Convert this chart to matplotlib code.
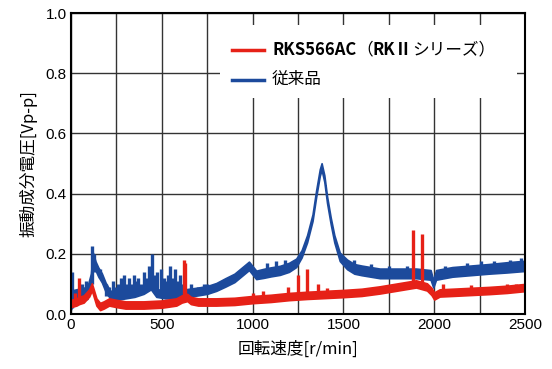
import numpy as np
import matplotlib
matplotlib.use("Agg")
import matplotlib.pyplot as plt

plt.rcParams['font.family'] = ['Noto Sans CJK JP', 'DejaVu Sans']

# 従来品 (青) : 中心値と帯の半幅
blue_x = [0, 15, 50, 90, 110, 120, 135, 150, 170, 190, 215, 250, 300, 350, 400, 440,
          470, 520, 580, 640, 700, 750, 800, 850, 900, 950, 980, 1000, 1020, 1060,
          1100, 1150, 1200, 1240, 1270, 1300, 1330, 1350, 1370, 1380, 1395, 1410,
          1430, 1450, 1480, 1520, 1560, 1600, 1700, 1800, 1900, 1980, 1995, 2010,
          2100, 2200, 2300, 2400, 2500]
blue_y = [0.03, 0.06, 0.065, 0.07, 0.12, 0.19, 0.16, 0.14, 0.12, 0.09, 0.065, 0.06,
          0.065, 0.07, 0.08, 0.095, 0.07, 0.065, 0.065, 0.07, 0.075, 0.08, 0.09,
          0.105, 0.12, 0.145, 0.16, 0.145, 0.13, 0.135, 0.14, 0.145, 0.155, 0.17,
          0.2, 0.25, 0.32, 0.4, 0.47, 0.49, 0.45, 0.38, 0.31, 0.25, 0.19, 0.165,
          0.15, 0.145, 0.135, 0.135, 0.135, 0.13, 0.1, 0.13, 0.14, 0.145, 0.15,
          0.155, 0.16]
blue_hw = [0.015, 0.02, 0.02, 0.02, 0.015, 0.015, 0.015, 0.015, 0.015, 0.015, 0.013,
           0.013, 0.013, 0.013, 0.013, 0.013, 0.013, 0.013, 0.013, 0.013, 0.013,
           0.013, 0.013, 0.014, 0.014, 0.014, 0.014, 0.014, 0.014, 0.015, 0.015,
           0.015, 0.015, 0.014, 0.012, 0.012, 0.011, 0.011, 0.011, 0.011, 0.011,
           0.011, 0.011, 0.012, 0.014, 0.016, 0.016, 0.016, 0.016, 0.016, 0.016,
           0.016, 0.012, 0.016, 0.016, 0.016, 0.016, 0.017, 0.017]
# 青のスパイク (回転速度, 下端, 上端)
blue_spk_x = [8, 60, 80, 115, 125, 160, 195, 210, 230, 245, 260, 275, 290, 305, 320,
              335, 345, 360, 370, 385, 400, 415, 430, 445, 460, 475, 495, 510, 520,
              535, 545, 560, 570, 585, 600, 615, 660, 700, 730, 750, 1080, 1130,
              1180, 1560, 1650, 1750, 1850, 2060, 2180, 2260, 2330, 2420, 2480]
blue_spk_lo = [0.02, 0.05, 0.05, 0.1, 0.14, 0.12, 0.06, 0.06, 0.06, 0.06, 0.06,
               0.06, 0.06, 0.06, 0.06, 0.065, 0.065, 0.07, 0.07, 0.075, 0.075, 0.08,
               0.085, 0.09, 0.08, 0.07, 0.065, 0.065, 0.06, 0.06, 0.06, 0.06, 0.06,
               0.06, 0.06, 0.065, 0.07, 0.07, 0.075, 0.08, 0.14, 0.14, 0.15, 0.15,
               0.14, 0.135, 0.135, 0.135, 0.14, 0.145, 0.15, 0.155, 0.155]
blue_spk_hi = [0.14, 0.1, 0.11, 0.225, 0.2, 0.15, 0.1, 0.09, 0.11, 0.09, 0.1, 0.12,
               0.13, 0.1, 0.12, 0.1, 0.13, 0.11, 0.12, 0.1, 0.14, 0.12, 0.16, 0.2,
               0.13, 0.14, 0.15, 0.12, 0.11, 0.13, 0.16, 0.12, 0.15, 0.11, 0.13,
               0.1, 0.1, 0.09, 0.1, 0.1, 0.17, 0.175, 0.18, 0.18, 0.165, 0.16, 0.16,
               0.16, 0.17, 0.175, 0.175, 0.18, 0.185]

# RKS566AC (赤)
red_x = [0, 30, 45, 70, 100, 115, 125, 140, 160, 180, 210, 250, 300, 400, 500, 580,
         610, 640, 660, 700, 800, 900, 1000, 1100, 1200, 1300, 1400, 1500, 1600,
         1700, 1800, 1900, 1960, 1985, 2000, 2030, 2100, 2200, 2300, 2400, 2500]
red_y = [0.035, 0.04, 0.045, 0.05, 0.07, 0.09, 0.07, 0.04, 0.025, 0.03, 0.04, 0.035,
         0.03, 0.03, 0.033, 0.04, 0.05, 0.055, 0.045, 0.04, 0.04, 0.042, 0.048,
         0.052, 0.058, 0.062, 0.065, 0.068, 0.072, 0.08, 0.09, 0.1, 0.09, 0.075,
         0.06, 0.07, 0.072, 0.075, 0.078, 0.082, 0.088]
red_hw = 0.012
red_spk_x = [20, 45, 620, 630, 1000, 1060, 1195, 1250, 1300, 1360, 1410, 1885, 1935,
             2050, 2200, 2400, 2450]
red_spk_lo = [0.03, 0.04, 0.04, 0.05, 0.045, 0.05, 0.055, 0.058, 0.06, 0.062, 0.065,
              0.1, 0.1, 0.07, 0.075, 0.08, 0.08]
red_spk_hi = [0.07, 0.12, 0.18, 0.17, 0.07, 0.075, 0.09, 0.13, 0.15, 0.1, 0.085,
              0.28, 0.265, 0.1, 0.095, 0.1, 0.1]

xticks = [0, 500, 1000, 1500, 2000, 2500]
yticks = [0.0, 0.2, 0.4, 0.6, 0.8, 1.0]

red = '#e62117'
blue = '#1c4a9c'

fig = plt.figure(figsize=(5.52, 3.69), dpi=100)
ax = fig.add_axes([0.1286, 0.149, 0.8225, 0.8157])

bx = np.array(blue_x)
by = np.array(blue_y)
bw = np.array(blue_hw)
ax.fill_between(bx, by - bw, by + bw, color=blue, lw=1.2, zorder=3)
ax.vlines(blue_spk_x, blue_spk_lo, blue_spk_hi, color=blue, lw=2.4, zorder=3)

rx = np.array(red_x)
ry = np.array(red_y)
ax.fill_between(rx, ry - red_hw, ry + red_hw, color=red, lw=1.2, zorder=4)
ax.vlines(red_spk_x, red_spk_lo, red_spk_hi, color=red, lw=2.4, zorder=4)

ax.set_xlim(0, 2500)
ax.set_ylim(0, 1.0)
ax.set_xticks(xticks)
ax.set_xticks([250, 750, 1250, 1750, 2250], minor=True)
ax.set_yticks(yticks)
ax.set_yticklabels(['%.1f' % v for v in yticks])
ax.grid(True, which='both', color='#333333', lw=1.0, zorder=1)
ax.tick_params(which='both', length=0, labelsize=11, pad=3)
for lab in ax.get_xticklabels() + ax.get_yticklabels():
    lab.set_family(['Liberation Sans', 'DejaVu Sans'])
for s in ax.spines.values():
    s.set_linewidth(1.5)
    s.set_zorder(6)

ax.set_xlabel('回転速度[r/min]', fontsize=12, labelpad=6)
ax.set_ylabel('振動成分電圧[Vp-p]', fontsize=12, labelpad=6)

# 凡例 (手描き)
ax.add_patch(plt.Rectangle((0.328, 0.718), 0.654, 0.242, transform=ax.transAxes,
                           facecolor='white', edgecolor='none', zorder=5))
ax.plot([0.355, 0.425], [0.878, 0.878], transform=ax.transAxes, color=red, lw=2.5, zorder=6)
ax.plot([0.355, 0.425], [0.778, 0.778], transform=ax.transAxes, color=blue, lw=2.5, zorder=6)

t1 = ax.text(0.443, 0.878, 'RKS566AC', transform=ax.transAxes, fontsize=12,
             fontweight='bold', va='center', ha='left', zorder=7)
t2 = ax.annotate('（', xy=(1, 0), xycoords=t1, va='bottom', ha='left', fontsize=12,
                 zorder=7)
t3 = ax.annotate('RKⅡ', xy=(1, 0), xycoords=t2, va='bottom', ha='left', fontsize=12,
                 fontweight='bold', zorder=7)
t4 = ax.annotate('シリーズ）', xy=(1, 0), xycoords=t3, va='bottom', ha='left',
                 fontsize=12, zorder=7)
ax.text(0.443, 0.778, '従来品', transform=ax.transAxes, fontsize=12,
        va='center', ha='left', zorder=7)

fig.savefig('out.png', dpi=100)
